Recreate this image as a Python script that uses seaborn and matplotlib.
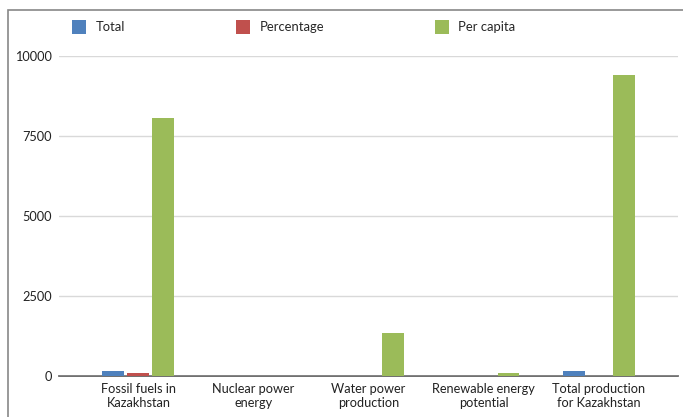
import matplotlib
matplotlib.use("Agg")
import matplotlib.pyplot as plt
import seaborn as sns
import pandas as pd
from matplotlib.patches import Rectangle

categories = ["Fossil fuels in\nKazakhstan", "Nuclear power\nenergy", "Water power\nproduction",
              "Renewable energy\npotential", "Total production\nfor Kazakhstan"]
series = ["Total", "Percentage", "Per capita"]
total = [150, 0, 0, 0, 150]
percentage = [90, 0, 0, 0, 0]
per_capita = [8050, 0, 1330, 90, 9400]
yticks = [0, 2500, 5000, 7500, 10000]
colors = ["#4F81BD", "#C0504D", "#9BBB59"]

rows = []
for name, vals in zip(series, [total, percentage, per_capita]):
    for c, v in zip(categories, vals):
        rows.append({"category": c, "series": name, "value": v})
df = pd.DataFrame(rows)

sns.set_theme(style="white")
plt.rcParams["font.family"] = ["Lato", "DejaVu Sans"]

fig = plt.figure(figsize=(6.83, 4.17), dpi=100)
ax = fig.add_axes([59/683, 1-376/417, (678-59)/683, (376-55.7)/417])

sns.barplot(data=df, x="category", y="value", hue="series", palette=colors,
            width=0.65, gap=0.12, ax=ax, saturation=1, legend=True, linewidth=0)

ax.set_ylim(0, 10000)
ax.set_xlim(-0.69, 4.69)
ax.set_yticks(yticks)
ax.set_yticklabels([str(t) for t in yticks])
ax.yaxis.grid(True, color="#d9d9d9", linewidth=1)
ax.set_axisbelow(True)
for s in ["top", "right", "left"]:
    ax.spines[s].set_visible(False)
ax.spines["bottom"].set_color("#555555")
ax.spines["bottom"].set_linewidth(1.2)
ax.spines["bottom"].set_zorder(0.5)
ax.tick_params(axis="both", length=0, labelsize=9.2, colors="#222222")
ax.tick_params(axis="y", pad=5)
ax.tick_params(axis="x", pad=5)
ax.set_xlabel("")
ax.set_ylabel("")

handles, labels = ax.get_legend_handles_labels()
ax.get_legend().remove()
fig.legend(handles, labels, loc="center left", bbox_to_anchor=(72/683, 1-27/417),
           ncol=3, frameon=False, fontsize=9.4, handlelength=1.05, handleheight=1.25,
           handletextpad=0.75, columnspacing=8.5, borderaxespad=0, borderpad=0)

fig.patches.append(Rectangle((7.5/683, -0.1), 1.2, (417-10)/417 + 0.1, transform=fig.transFigure,
                             fill=False, edgecolor="#888888", linewidth=1.2))

fig.savefig("out.png", dpi=100)
